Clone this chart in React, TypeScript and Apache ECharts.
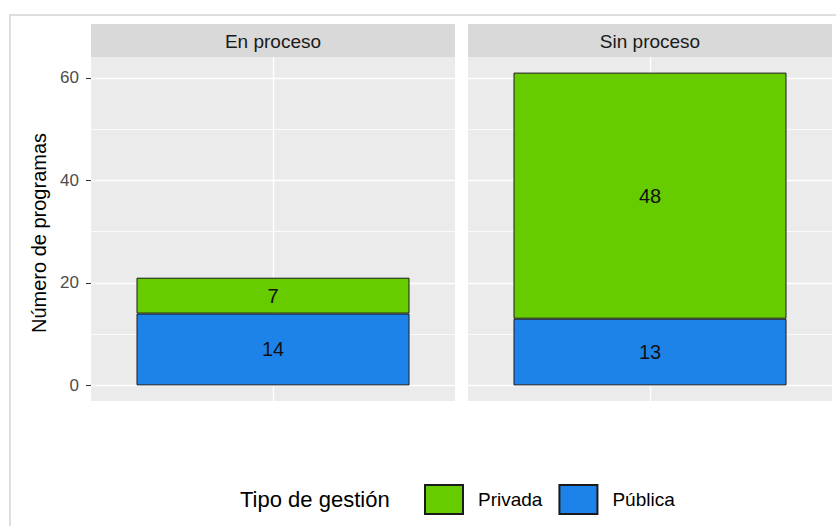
import React, { useEffect, useRef } from "react";
import * as echarts from "echarts";

const panels = ["En proceso", "Sin proceso"];
const categories = ["x"];
const publicaValues = [14, 13];
const privadaValues = [7, 48];
const yTicks = [0, 20, 40, 60];
const yMinor = [10, 30, 50];
const yMin = -3.05;
const yMax = 64.05;

const GREEN = "#66CC00";
const BLUE = "#1E83E9";
const FONT = "Liberation Sans, Arial, sans-serif";

export default function App() {
  const ref = useRef<HTMLDivElement>(null);
  useEffect(() => {
    if (!ref.current) return;
    const chart = echarts.init(ref.current, null, { renderer: "svg" });
    const gridLeft = [91, 468];
    const gridWidth = 364;
    const gridTop = 57;
    const gridHeight = 344;

    const grids = panels.map((_, i) => ({
      left: gridLeft[i],
      top: gridTop,
      width: gridWidth,
      height: gridHeight,
      show: true,
      backgroundColor: "#EBEBEB",
      borderWidth: 0,
    }));
    const xAxes = panels.map((_, i) => ({
      type: "category",
      gridIndex: i,
      data: categories,
      axisLine: { show: false },
      axisLabel: { show: false },
      axisTick: { show: true, alignWithLabel: true, length: 4, lineStyle: { color: "#333333", width: 1 } },
      splitLine: { show: false },
    }));
    const yAxes = panels.map((_, i) => ({
      type: "value",
      gridIndex: i,
      min: yMin,
      max: yMax,
      axisLine: { show: false },
      splitLine: { show: false },
      axisTick: {
        show: i === 0,
        length: 5,
        customValues: yTicks,
        lineStyle: { color: "#333333", width: 1 },
      },
      axisLabel: {
        show: i === 0,
        customValues: yTicks,
        fontSize: 17,
        fontFamily: FONT,
        color: "#4D4D4D",
        margin: 12,
      },
    }));

    const series: any[] = [];
    panels.forEach((_, i) => {
      series.push({
        name: "Pública",
        type: "bar",
        stack: "s" + i,
        xAxisIndex: i,
        yAxisIndex: i,
        barWidth: "75%",
        z: 2,
        data: [publicaValues[i]],
        itemStyle: { color: BLUE, borderColor: "#1A1A1A", borderWidth: 1 },
        label: { show: true, position: "inside", fontSize: 20, fontFamily: FONT, color: "#111111" },
        markLine: {
          silent: true,
          z: 1,
          symbol: ["none", "none"],
          label: { show: false },
          animation: false,
          data: [
            ...yTicks.map((v) => ({ yAxis: v, lineStyle: { color: "#FFFFFF", width: 1.4, type: "solid" } })),
            ...yMinor.map((v) => ({ yAxis: v, lineStyle: { color: "#FFFFFF", width: 0.8, type: "solid" } })),
            { xAxis: 0, lineStyle: { color: "#FFFFFF", width: 1.4, type: "solid" } },
          ],
        },
      });
      series.push({
        name: "Privada",
        type: "bar",
        stack: "s" + i,
        xAxisIndex: i,
        yAxisIndex: i,
        barWidth: "75%",
        z: 2,
        data: [privadaValues[i]],
        itemStyle: { color: GREEN, borderColor: "#1A1A1A", borderWidth: 1 },
        label: { show: true, position: "inside", fontSize: 20, fontFamily: FONT, color: "#111111" },
      });
    });

    const graphics: any[] = [
      {
        type: "rect",
        shape: { x: 10, y: 15, width: 840, height: 540 },
        style: { fill: "none", stroke: "#D4D4D4", lineWidth: 1.5 },
        silent: true,
      },
    ];
    panels.forEach((p, i) => {
      graphics.push({
        type: "rect",
        shape: { x: gridLeft[i], y: 24, width: gridWidth, height: 33 },
        style: { fill: "#D9D9D9" },
        silent: true,
      });
      graphics.push({
        type: "text",
        x: gridLeft[i] + gridWidth / 2,
        y: 41,
        style: {
          text: p,
          font: `19px ${FONT}`,
          fill: "#1A1A1A",
          textAlign: "center",
          textVerticalAlign: "middle",
        },
        silent: true,
      });
    });
    graphics.push({
      type: "text",
      x: 39,
      y: 233,
      rotation: Math.PI / 2,
      style: {
        text: "Número de programas",
        font: `20px ${FONT}`,
        fill: "#000000",
        textAlign: "center",
        textVerticalAlign: "middle",
      },
      silent: true,
    });
    graphics.push({
      type: "text",
      x: 240,
      y: 499,
      style: {
        text: "Tipo de gestión",
        font: `22px ${FONT}`,
        fill: "#000000",
        textAlign: "left",
        textVerticalAlign: "middle",
      },
      silent: true,
    });

    chart.setOption({
      animation: false,
      grid: grids,
      xAxis: xAxes,
      yAxis: yAxes,
      series,
      legend: {
        data: ["Privada", "Pública"],
        left: 424,
        top: 484,
        padding: 0,
        itemWidth: 38,
        itemHeight: 29,
        itemGap: 16,
        icon: "rect",
        selectedMode: false,
        textStyle: { fontSize: 19, fontFamily: FONT, color: "#000000", padding: [0, 0, 0, 10] },
      },
      graphic: graphics,
    });
    return () => chart.dispose();
  }, []);
  return (
    <div
      ref={ref}
      style={{ position: "fixed", left: 0, top: 0, width: 836, height: 526, background: "#FFFFFF" }}
    />
  );
}
